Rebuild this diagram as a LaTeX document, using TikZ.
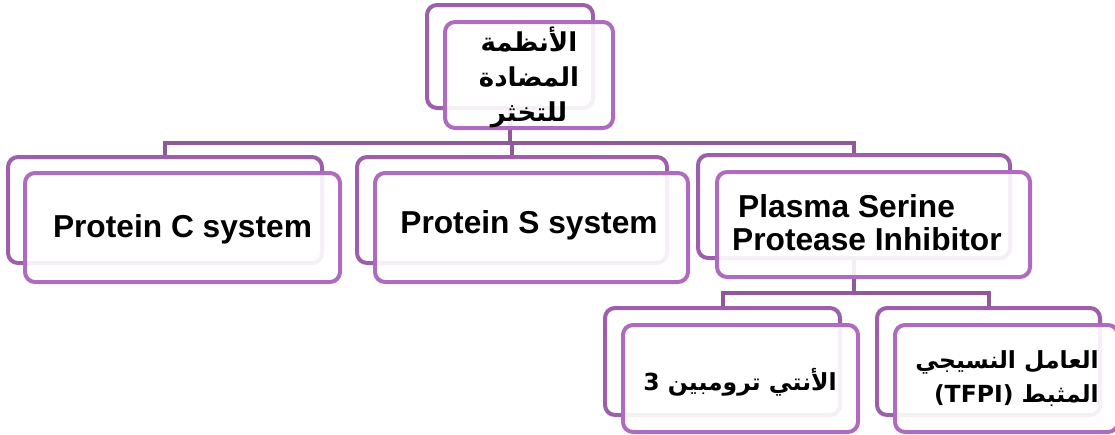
\documentclass[tikz,border=0pt]{standalone}
\usepackage{fontspec}
\setmainfont{Liberation Sans}
\newfontfamily\arabicfont[Script=Arabic]{DejaVu Sans}
\TeXXeTstate=1
\usetikzlibrary{backgrounds}
\definecolor{boxback}{HTML}{9C5FAA}
\definecolor{boxfront}{HTML}{AE6CC0}
\definecolor{connc}{HTML}{8E5A98}
\begin{document}
\begin{tikzpicture}[x=1pt,y=-1pt,
  backbox/.style={draw=boxback,line width=4pt,fill=white,rounded corners=10pt,inner sep=0pt},
  frontbox/.style={draw=boxfront,line width=4pt,fill=white,fill opacity=0.9,rounded corners=10pt,inner sep=0pt},
  conn/.style={draw=connc,line width=4pt},
  lat/.style={font=\fontsize{31.7}{33}\selectfont\bfseries,inner sep=0pt},
  ar/.style={font=\fontsize{26}{35}\selectfont\arabicfont\bfseries,inner sep=0pt},
  arsmall/.style={font=\fontsize{23.5}{34}\selectfont\arabicfont\bfseries,inner sep=0pt}]
\useasboundingbox (0,0) rectangle (1115,434);
% top
\node[backbox,minimum width=166pt,minimum height=103pt] (topb) at (510,56.5) {};
\node[frontbox,minimum width=168pt,minimum height=106pt] (topf) at (529,75) {};
\node[ar,align=center] (topt) at (529,77) {\beginR الأنظمة\endR\\\beginR المضادة\endR\\\beginR للتخثر\endR};
% level 1
\node[backbox,minimum width=314pt,minimum height=106pt] (pcb) at (165,210) {};
\node[frontbox,minimum width=315pt,minimum height=109pt] (pcf) at (182.5,227.5) {};
\node[lat,anchor=base] (pct) at (182.5,237) {Protein C system};
\node[backbox,minimum width=310pt,minimum height=106pt] (psb) at (512,210) {};
\node[frontbox,minimum width=313pt,minimum height=109pt] (psf) at (531.5,227.5) {};
\node[lat,anchor=base] (pst) at (529,233) {Protein S system};
\node[backbox,minimum width=312pt,minimum height=103pt] (plb) at (854,206.5) {};
\node[frontbox,minimum width=313pt,minimum height=105pt] (plf) at (873.5,224.5) {};
\node[lat,align=left,anchor=base west] (plt) at (732,250) {\hspace*{6pt}Plasma Serine\\Protease Inhibitor};
% level 2
\node[backbox,minimum width=235pt,minimum height=107pt] (atb) at (722.5,361.5) {};
\node[frontbox,minimum width=235pt,minimum height=107pt] (atf) at (740.5,378.5) {};
\node[arsmall,anchor=base] (att) at (740,390) {\beginR الأنتي ترومبين 3\endR};
\node[backbox,minimum width=223pt,minimum height=107pt] (tfb) at (988.5,361.5) {};
\node[frontbox,minimum width=223pt,minimum height=107pt] (tff) at (1006.5,378.5) {};
\node[arsmall,align=right,anchor=base] (tft) at (1007,402) {\beginR العامل النسيجي\endR\\\beginR المثبط \beginL(TFPI)\endL\endR};
% connectors
\begin{scope}[on background layer]
\fill[white] (0,0) rectangle (1115,434);
\coordinate (j1) at (510,143);
\coordinate (j2) at (855,293);
\draw[conn] (topb.south) -- (topb.south |- j1);
\draw[conn] (pcb.north) -- (pcb.north |- j1) -- (plb.north |- j1) -- (plb.north);
\draw[conn] (psb.north) -- (psb.north |- j1);
\draw[conn] (plb.south) -- (plb.south |- j2);
\draw[conn] (atb.north) -- (atb.north |- j2) -- (tfb.north |- j2) -- (tfb.north);
\end{scope}
\end{tikzpicture}
\end{document}
